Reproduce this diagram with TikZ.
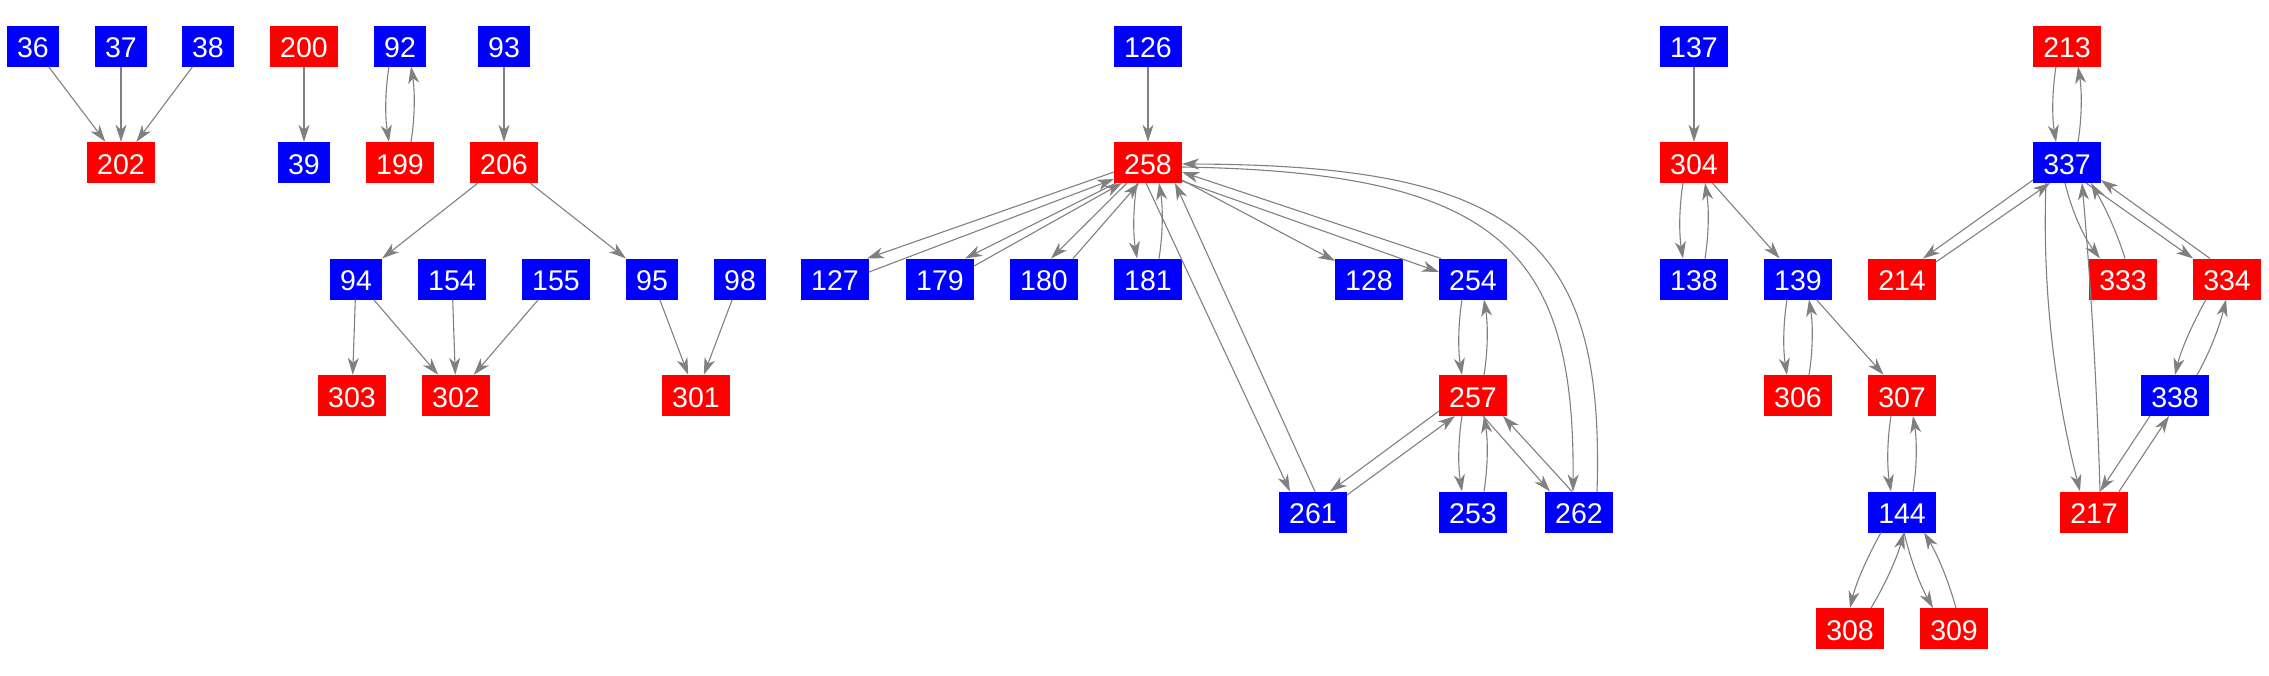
\documentclass[tikz,border=0pt]{standalone}
\usepackage{fontspec}
\setmainfont{Liberation Sans}
\usetikzlibrary{arrows.meta}
\definecolor{edgegray}{RGB}{128,128,128}
\tikzset{
  nd/.style={rectangle, inner sep=0pt, minimum height=41pt, text=white,
    font=\fontsize{28.5pt}{30pt}\selectfont, text height=23pt, text depth=0pt},
  bl/.style={nd, fill=blue},
  rd/.style={nd, fill=red},
  w2/.style={minimum width=52pt},
  w3/.style={minimum width=68pt},
  e/.style={draw=edgegray, line width=1.1pt, -{Stealth[length=17pt,width=11pt,inset=5pt]}}
}
\begin{document}
\begin{tikzpicture}[x=1pt,y=-1pt]
\useasboundingbox (0,0) rectangle (2269,675);
% row 0
\node[bl,w2] (n36) at (33,46) {36};
\node[bl,w2] (n37) at (121,46) {37};
\node[bl,w2] (n38) at (208,46) {38};
\node[rd,w3] (n200) at (304,46) {200};
\node[bl,w2] (n92) at (400,46) {92};
\node[bl,w2] (n93) at (504,46) {93};
\node[bl,w3] (n126) at (1148,46) {126};
\node[bl,w3] (n137) at (1694,46) {137};
\node[rd,w3] (n213) at (2067,46) {213};
% row 1
\node[rd,w3] (n202) at (121,162.5) {202};
\node[bl,w2] (n39) at (304,162.5) {39};
\node[rd,w3] (n199) at (400,162.5) {199};
\node[rd,w3] (n206) at (504,162.5) {206};
\node[rd,w3] (n258) at (1148,162.5) {258};
\node[rd,w3] (n304) at (1694,162.5) {304};
\node[bl,w3] (n337) at (2067,162.5) {337};
% row 2
\node[bl,w2] (n94) at (356,279) {94};
\node[bl,w3] (n154) at (452,279) {154};
\node[bl,w3] (n155) at (556,279) {155};
\node[bl,w2] (n95) at (652,279) {95};
\node[bl,w2] (n98) at (740,279) {98};
\node[bl,w3] (n127) at (835,279) {127};
\node[bl,w3] (n179) at (940,279) {179};
\node[bl,w3] (n180) at (1044,279) {180};
\node[bl,w3] (n181) at (1148,279) {181};
\node[bl,w3] (n128) at (1369,279) {128};
\node[bl,w3] (n254) at (1473,279) {254};
\node[bl,w3] (n138) at (1694,279) {138};
\node[bl,w3] (n139) at (1798,279) {139};
\node[rd,w3] (n214) at (1902,279) {214};
\node[rd,w3] (n333) at (2123,279) {333};
\node[rd,w3] (n334) at (2227,279) {334};
% row 3
\node[rd,w3] (n303) at (352,395.5) {303};
\node[rd,w3] (n302) at (456,395.5) {302};
\node[rd,w3] (n301) at (696,395.5) {301};
\node[rd,w3] (n257) at (1473,395.5) {257};
\node[rd,w3] (n306) at (1798,395.5) {306};
\node[rd,w3] (n307) at (1902,395.5) {307};
\node[bl,w3] (n338) at (2175,395.5) {338};
% row 4
\node[bl,w3] (n261) at (1313,512) {261};
\node[bl,w3] (n253) at (1473,512) {253};
\node[bl,w3] (n262) at (1579,512) {262};
\node[bl,w3] (n144) at (1902,512) {144};
\node[rd,w3] (n217) at (2094,512) {217};
% row 5
\node[rd,w3] (n308) at (1850,628.5) {308};
\node[rd,w3] (n309) at (1954,628.5) {309};

% simple edges
\draw[e] (n36) -- (n202);
\draw[e] (n37) -- (n202);
\draw[e] (n38) -- (n202);
\draw[e] (n200) -- (n39);
\draw[e] (n93) -- (n206);
\draw[e] (n206) -- (n94);
\draw[e] (n206) -- (n95);
\draw[e] (n94) -- (n303);
\draw[e] (n94) -- (n302);
\draw[e] (n154) -- (n302);
\draw[e] (n155) -- (n302);
\draw[e] (n95) -- (n301);
\draw[e] (n98) -- (n301);
\draw[e] (n126) -- (n258);
\draw[e] (n137) -- (n304);
\draw[e] (n304) -- (n139);
\draw[e] (n139) -- (n307);

% vertical pairs
\draw[e] ([shift={(-11,20.5)}]n92.center) .. controls +(-4,25) and +(-4,-25) .. ([shift={(-11,-20.5)}]n199.center);
\draw[e] ([shift={(11,-20.5)}]n199.center) .. controls +(4,-25) and +(4,25) .. ([shift={(11,20.5)}]n92.center);
\draw[e] ([shift={(-11,20.5)}]n304.center) .. controls +(-4,25) and +(-4,-25) .. ([shift={(-11,-20.5)}]n138.center);
\draw[e] ([shift={(11,-20.5)}]n138.center) .. controls +(4,-25) and +(4,25) .. ([shift={(11,20.5)}]n304.center);
\draw[e] ([shift={(-11,20.5)}]n139.center) .. controls +(-4,25) and +(-4,-25) .. ([shift={(-11,-20.5)}]n306.center);
\draw[e] ([shift={(11,-20.5)}]n306.center) .. controls +(4,-25) and +(4,25) .. ([shift={(11,20.5)}]n139.center);
\draw[e] ([shift={(-11,20.5)}]n213.center) .. controls +(-4,25) and +(-4,-25) .. ([shift={(-11,-20.5)}]n337.center);
\draw[e] ([shift={(11,-20.5)}]n337.center) .. controls +(4,-25) and +(4,25) .. ([shift={(11,20.5)}]n213.center);
\draw[e] ([shift={(-11,20.5)}]n254.center) .. controls +(-4,25) and +(-4,-25) .. ([shift={(-11,-20.5)}]n257.center);
\draw[e] ([shift={(11,-20.5)}]n257.center) .. controls +(4,-25) and +(4,25) .. ([shift={(11,20.5)}]n254.center);
\draw[e] ([shift={(-11,20.5)}]n257.center) .. controls +(-4,25) and +(-4,-25) .. ([shift={(-11,-20.5)}]n253.center);
\draw[e] ([shift={(11,-20.5)}]n253.center) .. controls +(4,-25) and +(4,25) .. ([shift={(11,20.5)}]n257.center);
\draw[e] ([shift={(-11,20.5)}]n307.center) .. controls +(-4,25) and +(-4,-25) .. ([shift={(-11,-20.5)}]n144.center);
\draw[e] ([shift={(11,-20.5)}]n144.center) .. controls +(4,-25) and +(4,25) .. ([shift={(11,20.5)}]n307.center);
\draw[e] ([shift={(-11,20.5)}]n258.center) .. controls +(-4,25) and +(-4,-25) .. ([shift={(-11,-20.5)}]n181.center);
\draw[e] ([shift={(11,-20.5)}]n181.center) .. controls +(4,-25) and +(4,25) .. ([shift={(11,20.5)}]n258.center);

% 258 fan
\draw[e] ([shift={(-34,9.5)}]n258.center) -- ([shift={(32,-20.5)}]n127.center);
\draw[e] ([shift={(34,-7)}]n127.center) -- ([shift={(-34,16.5)}]n258.center);
\draw[e] ([shift={(-32,20.5)}]n258.center) -- ([shift={(25,-20.5)}]n179.center);
\draw[e] ([shift={(34,-13)}]n179.center) -- ([shift={(-26,20.5)}]n258.center);
\draw[e] ([shift={(-21,20.5)}]n258.center) -- ([shift={(7,-20.5)}]n180.center);
\draw[e] ([shift={(29,-20.5)}]n180.center) -- ([shift={(-9,20.5)}]n258.center);
\draw[e] ([shift={(-2,20.5)}]n258.center) -- ([shift={(-23,-20.5)}]n261.center);
\draw[e] ([shift={(2,-20.5)}]n261.center) -- ([shift={(27,20.5)}]n258.center);
\draw[e] ([shift={(34,17.5)}]n258.center) -- ([shift={(-34,-18)}]n128.center);
\draw[e] ([shift={(34,18.5)}]n258.center) -- ([shift={(-34,-7)}]n254.center);
\draw[e] ([shift={(-32,-20.5)}]n254.center) -- ([shift={(34,9.5)}]n258.center);
\draw[e] ([shift={(34,4.5)}]n258.center) .. controls +(318,5) and +(2,-241.5) .. ([shift={(-6,-20.5)}]n262.center);
\draw[e] ([shift={(18,-20.5)}]n262.center) .. controls +(8,-251.5) and +(338,1) .. ([shift={(34,1.5)}]n258.center);

% 257
\draw[e] ([shift={(-34,15.5)}]n257.center) -- ([shift={(17,-20.5)}]n261.center);
\draw[e] ([shift={(34,-17)}]n261.center) -- ([shift={(-18,20.5)}]n257.center);
\draw[e] ([shift={(10,20.5)}]n257.center) -- ([shift={(-29,-20.5)}]n262.center);
\draw[e] ([shift={(-7,-20.5)}]n262.center) -- ([shift={(30,20.5)}]n257.center);

% 337
\draw[e] ([shift={(-34,17.5)}]n337.center) -- ([shift={(21,-20.5)}]n214.center);
\draw[e] ([shift={(34,-17)}]n214.center) -- ([shift={(-17,20.5)}]n337.center);
\draw[e] ([shift={(-2,20.5)}]n337.center) .. controls +(7,29) and +(-16,-21) .. ([shift={(-23,-20.5)}]n333.center);
\draw[e] ([shift={(2,-20.5)}]n333.center) .. controls +(-8,-26) and +(14,24) .. ([shift={(24,20.5)}]n337.center);
\draw[e] ([shift={(19,20.5)}]n337.center) -- ([shift={(-34,-20.5)}]n334.center);
\draw[e] ([shift={(-17,-20.5)}]n334.center) -- ([shift={(34,17.5)}]n337.center);
\draw[e] ([shift={(-21,20.5)}]n334.center) .. controls +(-14,25) and +(6,-25) .. ([shift={(0,-20.5)}]n338.center);
\draw[e] ([shift={(22,-20.5)}]n338.center) .. controls +(14,-25) and +(-6,25) .. ([shift={(-1,20.5)}]n334.center);
\draw[e] ([shift={(-25,20.5)}]n338.center) -- ([shift={(6,-20.5)}]n217.center);
\draw[e] ([shift={(25,-20.5)}]n217.center) -- ([shift={(-6,20.5)}]n338.center);
\draw[e] ([shift={(-21,20.5)}]n337.center) .. controls +(-4,103) and +(-26,-103) .. ([shift={(-14,-20.5)}]n217.center);
\draw[e] ([shift={(6,-20.5)}]n217.center) .. controls +(-3,-103) and +(9,103) .. ([shift={(15,20.5)}]n337.center);

% 144
\draw[e] ([shift={(-21,20.5)}]n144.center) .. controls +(-14,25) and +(6,-25) .. ([shift={(0,-20.5)}]n308.center);
\draw[e] ([shift={(21,-20.5)}]n308.center) .. controls +(15,-25) and +(-7,25) .. ([shift={(2,20.5)}]n144.center);
\draw[e] ([shift={(2,20.5)}]n144.center) .. controls +(6,25) and +(-14,-25) .. ([shift={(-21,-20.5)}]n309.center);
\draw[e] ([shift={(2,-20.5)}]n309.center) .. controls +(-7,-25) and +(15,25) .. ([shift={(22,20.5)}]n144.center);
\end{tikzpicture}
\end{document}
